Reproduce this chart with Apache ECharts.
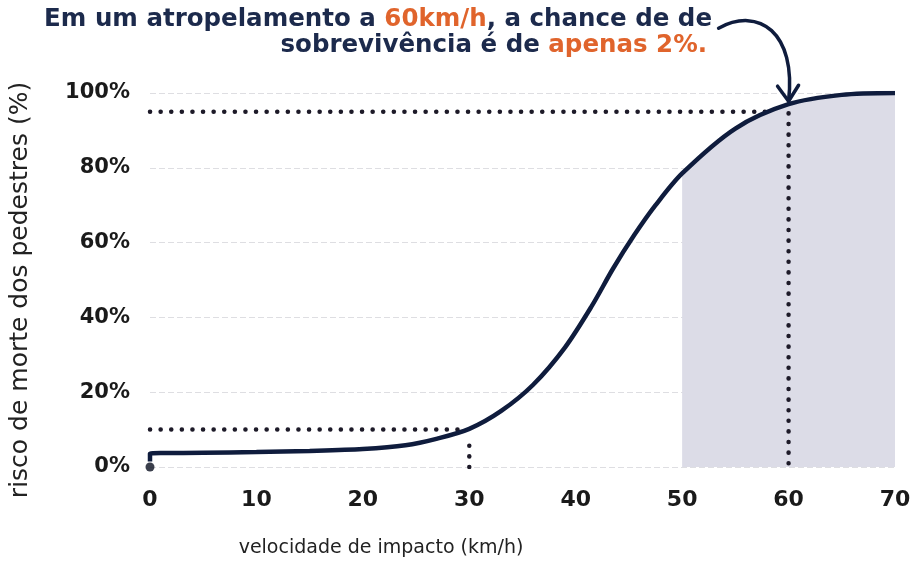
<!DOCTYPE html>
<html><head><meta charset="utf-8">
<script src="https://cdn.jsdelivr.net/npm/echarts@6/dist/echarts.min.js"></script>
<style>html,body{margin:0;padding:0;background:#fff}#c{width:922px;height:563px}</style>
</head><body><div id="c"></div>
<script>
const speed = [0, 5, 10, 15, 20, 24, 27, 30, 33, 36, 39, 41.5, 43.5, 45.5, 47.5, 50, 55, 60, 65, 70];
const risk  = [3.6, 3.8, 4.0, 4.3, 4.8, 5.8, 7.6, 10.2, 15, 22, 32, 43, 53, 62, 70, 78.5, 90.5, 97, 99.5, 100];
const xTicks = [0, 10, 20, 30, 40, 50, 60, 70];
const yTicks = [0, 20, 40, 60, 80, 100];
const ref30 = {x: 30, y: 10, xEnd: 29.5};
const ref60 = {x: 60, y: 97, hY: 95, xEnd: 57.8};
const shadeFrom = 50;

const curve = speed.map((s, i) => [s, risk[i]]);
const shade = curve.filter(p => p[0] >= shadeFrom);
const navy = '#0f1c3d';
const dotStyle = {color: '#1d1a28', width: 4.5, type: [0.1, 10.5], cap: 'round'};
const font = 'DejaVu Sans';

const chart = echarts.init(document.getElementById('c'));
chart.setOption({
  animation: false,
  grid: {left: 150, right: 27, top: 93, bottom: 96},
  xAxis: {type: 'value', min: 0, max: 70, interval: 10,
    axisLine: {show: false}, axisTick: {show: false}, splitLine: {show: false},
    axisLabel: {margin: 22, color: '#1a1a1a', fontSize: 22, fontWeight: 'bold', fontFamily: font}},
  yAxis: {type: 'value', min: 0, max: 100, interval: 20,
    axisLine: {show: false}, axisTick: {show: false},
    splitLine: {lineStyle: {color: '#dedee2', width: 1.2, type: [6, 3]}},
    axisLabel: {margin: 20, color: '#1a1a1a', fontSize: 21, fontWeight: 'bold', fontFamily: font, formatter: v => v + '%'}},
  series: [
    {type: 'line', data: shade, smooth: 0.3, symbol: 'none', lineStyle: {width: 0},
      areaStyle: {color: '#dcdce7', opacity: 1}, z: 1},
    {type: 'line', data: [[ref30.x, 0], [ref30.x, ref30.y - 1.5]], symbol: 'none', lineStyle: dotStyle, z: 3},
    {type: 'line', data: [[0, ref30.y], [ref30.xEnd, ref30.y]], symbol: 'none', lineStyle: dotStyle, z: 3},
    {type: 'line', data: [[0, ref60.hY], [ref60.xEnd, ref60.hY]], symbol: 'none', lineStyle: dotStyle, z: 3},
    {type: 'line', data: [[ref60.x, 1], [ref60.x, ref60.y - 2]], symbol: 'none', lineStyle: dotStyle, z: 3},
    {type: 'line', data: [[0, 1.5]].concat(curve), smooth: 0.3, symbol: 'none',
      lineStyle: {color: navy, width: 4.5}, z: 5},
    {type: 'scatter', data: [[0, 0]], symbolSize: 9, itemStyle: {color: '#0a0f1f'}, z: 6}
  ]
});

const tip = chart.convertToPixel({gridIndex: 0}, [ref60.x, ref60.y]);
const tx = tip[0], ty = tip[1];
const rich = {n: {fill: '#1c2a4c', fontSize: 24.5, fontWeight: 'bold', fontFamily: font},
              o: {fill: '#e0642c', fontSize: 24.5, fontWeight: 'bold', fontFamily: font}};
chart.setOption({
  graphic: [
    {type: 'text', x: 712, y: 20, style: {
      text: '{n|Em um atropelamento a }{o|60km/h}{n|, a chance de de}', rich: rich,
      align: 'right', verticalAlign: 'middle'}},
    {type: 'text', x: 707, y: 46, style: {
      text: '{n|sobrevivência é de }{o|apenas 2%.}', rich: rich,
      align: 'right', verticalAlign: 'middle'}},
    {type: 'bezierCurve', shape: {x1: tx - 70, y1: ty - 76, cpx1: tx - 30, cpy1: ty - 98, cpx2: tx + 8, cpy2: ty - 72, x2: tx, y2: ty - 3},
      style: {stroke: navy, lineWidth: 3.5, fill: null, lineCap: 'round'}, z: 10},
    {type: 'polyline', shape: {points: [[tx - 11, ty - 18], [tx, ty - 3], [tx + 10, ty - 19]]},
      style: {stroke: navy, lineWidth: 3.5, fill: null, lineCap: 'round', lineJoin: 'round'}, z: 10},
    {type: 'text', x: 20, y: 290, rotation: Math.PI / 2, style: {
      text: 'risco de morte dos pedestres (%)', fill: '#222', fontSize: 25, fontFamily: font,
      align: 'center', verticalAlign: 'middle'}},
    {type: 'text', x: 381, y: 548, style: {
      text: 'velocidade de impacto (km/h)', fill: '#222', fontSize: 19, fontFamily: font,
      align: 'center', verticalAlign: 'middle'}}
  ]
});
</script></body></html>
